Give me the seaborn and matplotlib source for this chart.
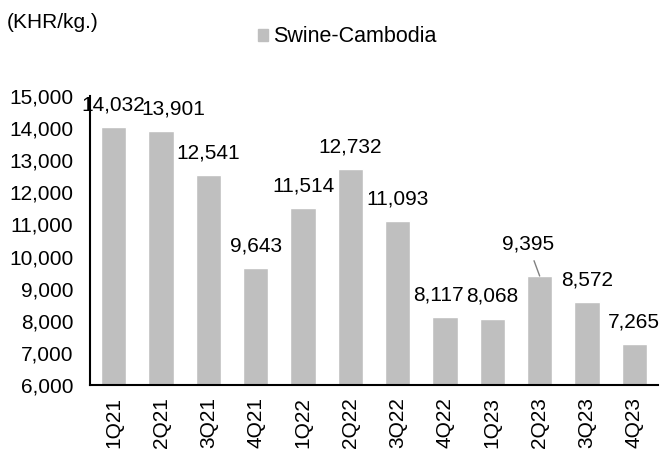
import matplotlib
matplotlib.use("Agg")
import matplotlib.pyplot as plt
import seaborn as sns
import pandas as pd
import numpy as np

categories = ["1Q21", "2Q21", "3Q21", "4Q21", "1Q22", "2Q22", "3Q22", "4Q22",
              "1Q23", "2Q23", "3Q23", "4Q23"]
values = [14032, 13901, 12541, 9643, 11514, 12732, 11093, 8117, 8068, 9395, 8572, 7265]
series_name = "Swine-Cambodia"
unit_label = "(KHR/kg.)"

sns.set_style("white")
plt.rcParams['font.family'] = ['Liberation Sans', 'DejaVu Sans']
plt.rcParams['text.color'] = 'black'
plt.rcParams['xtick.color'] = 'black'
plt.rcParams['ytick.color'] = 'black'

FS = 15

df = pd.DataFrame({"quarter": categories, "price": values})

fig = plt.figure(figsize=(6.62, 4.5), dpi=100)
ax = fig.add_axes([90/662, 65/450, 568/662, 289/450])

bar_color = "#BFBFBF"
sns.barplot(data=df, x="quarter", y="price", color=bar_color, width=0.54,
            saturation=1, ax=ax, legend=False)

ax.set_ylim(6000, 15000)
ax.set_xlim(-0.5, len(categories) - 0.5)
ax.set_yticks(np.arange(6000, 15001, 1000))
ax.set_yticklabels([f"{v:,}" for v in range(6000, 15001, 1000)], fontsize=FS)

# x ticks at category boundaries, labels at centres
ax.set_xticks(np.arange(-0.5, len(categories), 1.0))
ax.set_xticklabels([])
ax.set_xticks(np.arange(len(categories)), minor=True)
ax.set_xticklabels(categories, minor=True, rotation=90, fontsize=FS, va="top")
ax.tick_params(axis="x", which="minor", length=0, pad=9)
ax.tick_params(axis="x", which="major", direction="out", length=5, width=1.5, color="black")
ax.tick_params(axis="y", direction="out", length=5, width=1.5, color="black", pad=7)
ax.set_xlabel("")
ax.set_ylabel("")

for side in ["top", "right"]:
    ax.spines[side].set_visible(False)
for side in ["left", "bottom"]:
    ax.spines[side].set_color("black")
    ax.spines[side].set_linewidth(1.5)

# data labels (x offsets in points, as placed in the reference)
x_shift = {"2Q21": 9, "4Q22": -5}
for i, v in enumerate(values):
    if categories[i] == "2Q23":
        ax.annotate(f"{v:,}", xy=(i, v), xytext=(-8.5, 23), textcoords="offset points",
                    ha="center", va="center", fontsize=FS,
                    arrowprops=dict(arrowstyle="-", color="#808080", lw=1,
                                    shrinkA=3, shrinkB=0))
    else:
        ax.annotate(f"{v:,}", xy=(i, v), xytext=(x_shift.get(categories[i], 0), 16),
                    textcoords="offset points",
                    ha="center", va="center", fontsize=FS, annotation_clip=False)

fig.text(7/662, 1 - 22/450, unit_label, fontsize=FS, ha="left", va="center")

handles = [plt.Rectangle((0, 0), 1, 1, color=bar_color)]
fig.legend(handles, [series_name], loc="center left", bbox_to_anchor=(249.5/662, 1 - 37/450),
           frameon=False, fontsize=15.5, handlelength=0.46, handleheight=0.46,
           handletextpad=0.23, borderaxespad=0)

fig.savefig("out.png", dpi=100)
